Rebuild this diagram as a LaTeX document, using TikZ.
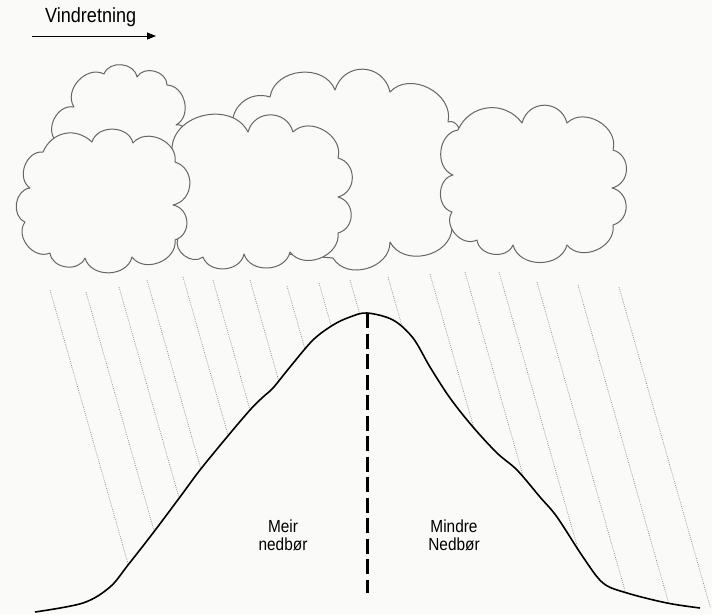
\documentclass[tikz,border=0pt]{standalone}
\usepackage{fontspec}
\setmainfont{Liberation Sans}
\newfontfamily\narrowsans{Liberation Sans}[FakeStretch=0.88]
\usetikzlibrary{arrows.meta}

\definecolor{paper}{RGB}{250,250,248}

\tikzset{
  puff/.style={bend left=#1, looseness=1.15},
  puff/.default=75,
  cloud/.style={draw=black!60, fill=paper, line width=1pt, line join=round},
  rain/.style={draw=black!45, line width=0.7pt, dash pattern=on 0.8pt off 1.2pt},
  ridge/.style={draw=black, line width=1.6pt, line join=round},
  watershed/.style={draw=black, line width=3pt, dash pattern=on 15pt off 5.5pt},
  sidetext/.style={font=\narrowsans\fontsize{17.5}{18}\selectfont, align=center, inner sep=0pt}
}

% the mountain side, #1 = path options, #2 = rest of the path
\newcommand{\ridgepath}[2]{%
  \path[#1] plot[smooth, tension=0.55] coordinates {
    (35,612) (83,603) (110,587) (128,565) (153,533) (180,497) (200,470)
    (227,437) (250,410) (263,397) (273,388) (290,367) (313,340) (333,325)
    (350,317) (367,313) (393,320) (413,338) (430,367) (450,398) (473,427)
    (497,453) (517,470) (540,497) (557,517) (583,557) (603,583) (627,593)
    (667,603) (700,608)
  } #2;}

\begin{document}
\begin{tikzpicture}[x=1pt, y=-1pt]
  \fill[paper] (0,0) rectangle (712,614);

  % rain, stopped by the mountain
  \begin{scope}
    \ridgepath{clip}{-- (712,608) -- (712,0) -- (0,0) -- (0,612) -- cycle}
    \foreach \x/\y in {50/290, 86/292, 119/287, 147/280, 183/277, 213/280,
                       250/280, 287/286, 319/283, 350/280, 388/277, 430/274,
                       465/272, 499/272, 537/282, 578/285, 619/287}
      \draw[rain] (\x,\y) -- ++({0.285*(620-\y)}, {620-\y});
  \end{scope}

  % clouds, back to front
  \draw[cloud] (57,142) to[puff] (74,107) to[puff] (104,74) to[puff] (137,77)
    to[puff] (167,85) to[puff] (176,125) to[puff] (185,140)
    -- (185,158) -- (57,158) -- cycle;
  \draw[cloud] (233,130) to[puff=60] (270,97) to[puff] (335,90)
    to[puff, looseness=1.4] (390,92) to[puff] (448,122) to[puff] (458,135)
    -- (470,140) -- (470,228) -- (452,228) to[puff] (390,242) to[puff] (333,258)
    -- (240,250) -- cycle;
  \draw[cloud] (172,148) to[puff] (248,132) to[puff, looseness=1.35] (293,132)
    to[puff] (338,158) to[puff, looseness=1.3] (338,197)
    to[puff, looseness=1.3] (338,233) to[puff] (290,252) to[puff] (244,254)
    to[puff] (203,257) to[puff] (178,238) -- (165,200) -- cycle;
  \draw[cloud] (43,152) to[puff=55] (92,142) to[puff] (133,143) to[puff] (175,162)
    to[puff, looseness=1.3] (173,205) to[puff, looseness=1.3] (175,240)
    to[puff] (132,257) to[puff] (85,258) to[puff] (50,253) to[puff] (25,222)
    to[puff] (30,188) to[puff] (43,152) -- cycle;
  \draw[cloud] (458,130) to[puff=60] (522,123) to[puff, looseness=1.4] (567,123)
    to[puff] (613,150) to[puff, looseness=1.3] (612,188)
    to[puff, looseness=1.3] (613,225) to[puff] (567,245) to[puff] (513,245)
    to[puff] (477,240) to[puff] (452,212) to[puff] (453,175) to[puff] (458,130)
    -- cycle;

  % mountain and the divide at its top
  \ridgepath{ridge}{}
  \coordinate (peak) at (367,313);
  \coordinate (foot) at (367,593);
  \draw[watershed] (peak) -- (foot);

  \node[sidetext] (meir) at (283,535) {Meir\\nedbør};
  \node[sidetext] (mindre) at (454,535) {Mindre\\Nedbør};

  % wind
  \node[anchor=base west, inner sep=0pt, font=\narrowsans\fontsize{20.5}{24}\selectfont]
    (wind) at (45,22) {Vindretning};
  \coordinate (wind tail) at (32,36);
  \coordinate (wind head) at (156,36);
  \draw[line width=0.8pt, -{Triangle[length=9pt, width=7pt]}] (wind tail) -- (wind head);
\end{tikzpicture}
\end{document}
